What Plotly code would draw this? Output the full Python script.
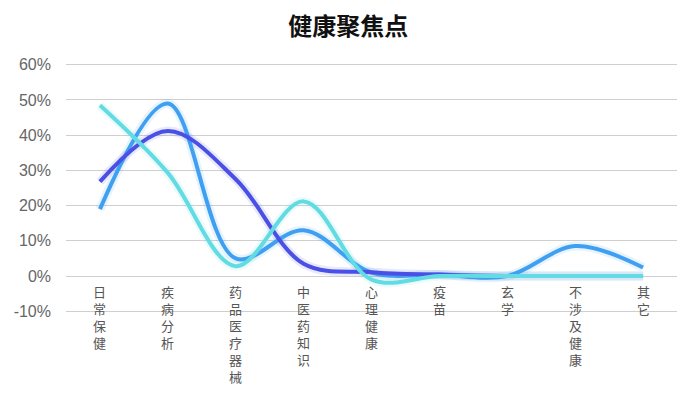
import plotly.graph_objects as go

categories = ["日常保健", "疾病分析", "药品医疗器械", "中医药知识", "心理健康", "疫苗", "玄学", "不涉及健康", "其它"]
series_dark = [0.268, 0.412, 0.275, 0.035, 0.011, 0.004, 0.0, 0.0, 0.0]
series_mid = [0.19, 0.49, 0.05, 0.13, 0.01, 0.004, 0.0, 0.085, 0.024]
series_cyan = [0.485, 0.293, 0.028, 0.212, -0.01, 0.0, 0.0, 0.0, 0.0]
y_tickvals = [-0.1, 0.0, 0.1, 0.2, 0.3, 0.4, 0.5, 0.6]
y_ticktext = ["-10%", "0%", "10%", "20%", "30%", "40%", "50%", "60%"]
title_text = "健康聚焦点"

colors = ["#4a4fe6", "#3f9ff0", "#62dbe3"]
series = [series_mid, series_dark, series_cyan]
series_colors = [colors[1], colors[0], colors[2]]

fig = go.Figure()
for vals, c in zip(series, series_colors):
    fig.add_trace(go.Scatter(x=categories, y=vals, mode="lines",
                             line=dict(color=c, width=9, shape="spline", smoothing=1.0),
                             opacity=0.12, hoverinfo="skip", showlegend=False))
for vals, c in zip(series, series_colors):
    fig.add_trace(go.Scatter(x=categories, y=vals, mode="lines",
                             line=dict(color=c, width=4, shape="spline", smoothing=1.0),
                             showlegend=False))

for cat in categories:
    fig.add_annotation(x=cat, y=0, xref="x", yref="y", text="<br>".join(list(cat)),
                       showarrow=False, yanchor="top", xanchor="center", yshift=-7,
                       font=dict(size=13, color="#555555",
                                 family="Liberation Sans, Noto Sans CJK SC"))

# page body has an 8px margin, so the figure is sized to fit the 698x393 window
fig.update_layout(
    width=690, height=385,
    margin=dict(l=58, r=21, t=55, b=80),
    paper_bgcolor="white", plot_bgcolor="white",
    title=dict(text="<b>" + title_text + "</b>", x=0.493, xanchor="center", y=0.951, yanchor="middle",
               font=dict(size=24, color="#111111", family="Noto Sans CJK SC")),
    xaxis=dict(type="category", range=[-0.5, 8.5], showticklabels=False, showgrid=False,
               zeroline=False, showline=False, ticks="", automargin=False),
    yaxis=dict(range=[-0.105, 0.605], tickvals=y_tickvals, ticktext=y_ticktext,
               showgrid=True, gridcolor="#cfcfcf", gridwidth=1, zeroline=False, showline=False,
               ticks="", ticklabelstandoff=14, automargin=False,
               tickfont=dict(size=16, color="#666666", family="Liberation Sans")),
)

fig.write_html("out.html")
